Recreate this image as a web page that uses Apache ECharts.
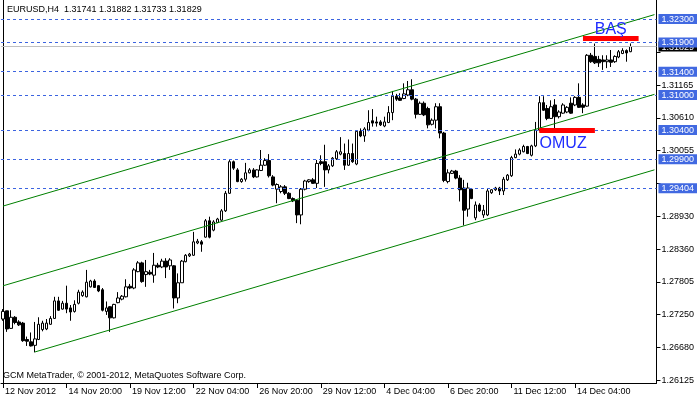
<!DOCTYPE html>
<html><head><meta charset="utf-8">
<script src="https://cdn.jsdelivr.net/npm/echarts@6/dist/echarts.min.js"></script>
<style>html,body{margin:0;padding:0;background:#fff}#c{width:700px;height:402px}</style>
</head><body><div id="c"></div>
<script>
const opens = [1.2717,1.2731,1.2701,1.2720,1.2712,1.2710,1.2682,1.2678,1.2672,1.2682,
1.2699,1.2700,1.2708,1.2718,1.2748,1.2734,1.2744,1.2736,1.2730,1.2744,
1.2757,1.2755,1.2772,1.2782,1.2774,1.2767,1.2730,1.2738,1.2719,1.2745,
1.2751,1.2755,1.2773,1.2770,1.2798,1.2813,1.2793,1.2797,1.2792,1.2809,
1.2806,1.2816,1.2808,1.2808,1.2753,1.2779,1.2815,1.2825,1.2826,1.2847,
1.2849,1.2857,1.2885,1.2869,1.2882,1.2886,1.2902,1.2932,1.2986,1.2972,
1.2952,1.2956,1.2967,1.2972,1.2960,1.2971,1.2980,1.2988,1.2960,1.2939,
1.2935,1.2943,1.2932,1.2923,1.2920,1.2895,1.2939,1.2952,1.2955,1.2949,
1.2986,1.2986,1.2972,1.2979,1.2991,1.2999,1.3000,1.2980,1.3000,1.2982,
1.3038,1.3030,1.3040,1.3056,1.3054,1.3054,1.3047,1.3053,1.3070,1.3098,
1.3095,1.3094,1.3100,1.3109,1.3093,1.3067,1.3086,1.3077,1.3050,1.3057,
1.3080,1.3035,1.2952,1.2966,1.2970,1.2958,1.2941,1.2905,1.2939,1.2890,
1.2912,1.2895,1.2895,1.2933,1.2938,1.2941,1.2936,1.2955,1.2962,1.2993,
1.2999,1.3003,1.3012,1.2997,1.3013,1.3040,1.3087,1.3077,1.3060,1.3083,
1.3063,1.3069,1.3071,1.3086,1.3083,1.3096,1.3083,1.3081,1.3168,1.3166,
1.3161,1.3160,1.3157,1.3160,1.3157,1.3165,1.3171,1.3176,1.31741];
const highs = [1.2734,1.2731,1.2732,1.2722,1.2715,1.2712,1.2687,1.2694,1.2712,1.2720,
1.2714,1.2717,1.2722,1.2755,1.2755,1.2748,1.2774,1.2741,1.2749,1.2767,
1.2766,1.2801,1.2784,1.2785,1.2775,1.2770,1.2747,1.2739,1.2743,1.2763,
1.2758,1.2785,1.2777,1.2804,1.2816,1.2815,1.2818,1.2801,1.2830,1.2813,
1.2820,1.2821,1.2821,1.2809,1.2795,1.2818,1.2828,1.2830,1.2866,1.2854,
1.2852,1.2888,1.2892,1.2886,1.2890,1.2905,1.2936,1.2989,1.2988,1.2975,
1.2958,1.2984,1.2975,1.2975,1.2973,1.3006,1.2992,1.2999,1.2963,1.2949,
1.2946,1.2946,1.2934,1.2925,1.2922,1.2941,1.2955,1.2956,1.2958,1.2989,
1.2997,1.3015,1.2982,1.2994,1.3006,1.3028,1.3017,1.3024,1.3017,1.3040,
1.3043,1.3045,1.3074,1.3076,1.3063,1.3057,1.3063,1.3081,1.3107,1.3102,
1.3103,1.3120,1.3124,1.3127,1.3095,1.3089,1.3089,1.3080,1.3060,1.3086,
1.3086,1.3037,1.2973,1.2972,1.2972,1.2963,1.2955,1.2950,1.2941,1.2918,
1.2915,1.2912,1.2941,1.2939,1.2943,1.2943,1.2960,1.2965,1.2996,1.3007,
1.3009,1.3015,1.3013,1.3015,1.3054,1.3098,1.3098,1.3083,1.3091,1.3093,
1.3074,1.3086,1.3081,1.3096,1.3098,1.3120,1.3086,1.3170,1.3172,1.3188,
1.3167,1.3168,1.3168,1.3177,1.3168,1.3177,1.3180,1.3178,1.31882];
const lows = [1.2714,1.2695,1.2700,1.2708,1.2705,1.2678,1.2671,1.2670,1.2660,1.2681,
1.2696,1.2698,1.2707,1.2717,1.2731,1.2733,1.2727,1.2714,1.2728,1.2742,
1.2755,1.2754,1.2771,1.2770,1.2763,1.2730,1.2724,1.2695,1.2718,1.2744,
1.2749,1.2754,1.2768,1.2768,1.2797,1.2779,1.2772,1.2792,1.2779,1.2804,
1.2804,1.2787,1.2801,1.2735,1.2744,1.2779,1.2814,1.2823,1.2825,1.2845,
1.2832,1.2856,1.2855,1.2867,1.2881,1.2885,1.2900,1.2931,1.2972,1.2951,
1.2950,1.2952,1.2966,1.2958,1.2959,1.2970,1.2979,1.2959,1.2944,1.2915,
1.2932,1.2929,1.2922,1.2917,1.2881,1.2879,1.2937,1.2950,1.2948,1.2941,
1.2980,1.2943,1.2966,1.2977,1.2989,1.2997,1.2972,1.2979,1.2984,1.2980,
1.3028,1.3020,1.3038,1.3046,1.3046,1.3047,1.3045,1.3052,1.3057,1.3090,
1.3090,1.3093,1.3098,1.3091,1.3060,1.3066,1.3064,1.3043,1.3048,1.3043,
1.3026,1.2951,1.2949,1.2965,1.2956,1.2918,1.2877,1.2892,1.2922,1.2886,
1.2900,1.2890,1.2893,1.2931,1.2936,1.2929,1.2929,1.2953,1.2960,1.2992,
1.2997,1.3002,1.2999,1.2995,1.3011,1.3038,1.3073,1.3057,1.3059,1.3043,
1.3060,1.3068,1.3069,1.3068,1.3081,1.3078,1.3069,1.3080,1.3155,1.3153,
1.3148,1.3143,1.3146,1.3148,1.3155,1.3163,1.3170,1.3157,1.31733];
const closes = [1.2730,1.2700,1.2720,1.2711,1.2707,1.2680,1.2679,1.2671,1.2683,1.2708,
1.2710,1.2710,1.2718,1.2748,1.2732,1.2744,1.2734,1.2729,1.2742,1.2763,
1.2763,1.2780,1.2782,1.2771,1.2765,1.2732,1.2736,1.2719,1.2742,1.2753,
1.2756,1.2772,1.2770,1.2801,1.2813,1.2781,1.2798,1.2794,1.2809,1.2806,
1.2816,1.2806,1.2818,1.2753,1.2779,1.2816,1.2826,1.2828,1.2849,1.2850,
1.2845,1.2885,1.2857,1.2883,1.2888,1.2902,1.2932,1.2986,1.2975,1.2952,
1.2956,1.2967,1.2972,1.2960,1.2972,1.2980,1.2988,1.2962,1.2946,1.2947,
1.2943,1.2932,1.2923,1.2919,1.2895,1.2939,1.2953,1.2955,1.2949,1.2983,
1.2983,1.2972,1.2979,1.2992,1.3003,1.3003,1.2980,1.3000,1.2986,1.3038,
1.3030,1.3042,1.3053,1.3052,1.3052,1.3049,1.3054,1.3070,1.3098,1.3093,
1.3091,1.3102,1.3109,1.3093,1.3067,1.3086,1.3066,1.3049,1.3057,1.3080,
1.3035,1.2954,1.2967,1.2970,1.2958,1.2938,1.2903,1.2941,1.2923,1.2912,
1.2902,1.2903,1.2936,1.2938,1.2941,1.2936,1.2956,1.2963,1.2993,1.2999,
1.3006,1.3012,1.3000,1.3013,1.3040,1.3087,1.3074,1.3060,1.3080,1.3063,
1.3071,1.3083,1.3079,1.3069,1.3096,1.3079,1.3079,1.3168,1.3157,1.3155,
1.3155,1.3157,1.3160,1.3156,1.3166,1.3174,1.3176,1.3172,1.31829];

const barSlots = 165;
const xTickLabels = ['12 Nov 2012','14 Nov 20:00','19 Nov 12:00','22 Nov 04:00','26 Nov 20:00',
  '29 Nov 12:00','4 Dec 04:00','6 Dec 20:00','11 Dec 12:00','14 Dec 04:00'];
const xTickStep = 16;
const yTickValues = [1.26125,1.26680,1.27250,1.27805,1.28360,1.28930,1.29485,1.30055,1.30610,1.31165,1.31740];
const yLabelValues = [1.26125,1.26680,1.27250,1.27805,1.28360,1.28930,1.30055,1.30610,1.31165];
const levelValues = [1.32300,1.31900,1.31400,1.31000,1.30400,1.29900,1.29404];
const bidPrice = 1.31829;
const channelTop = [[0,1.29101],[164,1.32375]];
const channelMid = [[0,1.27738],[164,1.31012]];
const channelLow = [[8,1.26606],[164,1.29721]];
const headBar = [[146,1.31967],[160,1.31967]];
const shoulderBar = [[135,1.30405],[149,1.30405]];
const notes = [{text:'BAŞ', at:[153,1.32112]},{text:'OMUZ', at:[141,1.30175]}];
const yMin = 1.26076, yMax = 1.32625;

const categories = Array.from({length: barSlots}, (_, i) => 'bar' + i);
const ohlc = opens.map((o, i) => [o, closes[i], lows[i], highs[i]]);
const FONT = 'Liberation Sans';
const last = ohlc.length - 1;
const header = 'EURUSD,H4  ' + [opens[last], highs[last], lows[last], closes[last]].map(v => v.toFixed(5)).join(' ');

const showTick = (i) => i % xTickStep === 0 && i / xTickStep < xTickLabels.length;
const near = (a, b) => Math.abs(a - b) < 1e-7;

const lineItems = [];
levelValues.forEach(v => lineItems.push({yAxis: v, lineStyle: {color: '#3c64e0', type: [3, 3], width: 1}}));
lineItems.push({yAxis: bidPrice, lineStyle: {color: '#c0c0c0', type: 'solid', width: 1}});
[channelTop, channelMid, channelLow].forEach(s => {
  const st = {color: '#008000', width: 1, type: 'solid'};
  lineItems.push([{coord: s[0], lineStyle: st}, {coord: s[1], lineStyle: st}]);
});
[headBar, shoulderBar].forEach(s => {
  const st = {color: '#ff0000', width: 5, type: 'solid', cap: 'butt'};
  lineItems.push([{coord: s[0], lineStyle: st}, {coord: s[1], lineStyle: st}]);
});

const chart = echarts.init(document.getElementById('c'), null, {renderer: 'canvas'});
chart.setOption({
  animation: false,
  backgroundColor: '#ffffff',
  grid: {left: 1, right: 39, top: 0, bottom: 19},
  xAxis: {
    type: 'category', data: categories, boundaryGap: true,
    axisLine: {show: true, lineStyle: {color: '#000', width: 1}},
    axisTick: {show: true, alignWithLabel: true, interval: showTick, length: 5, lineStyle: {color: '#000'}},
    axisLabel: {interval: showTick, formatter: (v, i) => xTickLabels[Math.round(i / xTickStep)] || '',
      align: 'left', margin: 4, padding: [0, 0, 0, 2], fontFamily: FONT, fontSize: 9, color: '#000'},
    splitLine: {show: false}
  },
  yAxis: [{
    type: 'value', position: 'right', min: yMin, max: yMax, scale: true,
    axisLine: {show: true, lineStyle: {color: '#000', width: 1}},
    axisTick: {show: true, customValues: yTickValues, length: 4, lineStyle: {color: '#000'}},
    axisLabel: {
      customValues: [bidPrice].concat(yLabelValues).concat(levelValues),
      margin: 2, fontFamily: FONT, fontSize: 9, color: '#000',
      formatter: (v) => {
        const s = v.toFixed(5);
        if (levelValues.some(l => near(l, v))) return '{b|' + s + '}';
        if (near(v, bidPrice)) return '{k|' + s + '}';
        return '{n|' + s + '}';
      },
      rich: {
        n: {fontFamily: FONT, fontSize: 9, color: '#000', padding: [0, 0, 0, 3]},
        b: {fontFamily: FONT, fontSize: 9, color: '#fff', backgroundColor: '#4169e1', padding: [1, 3, 0, 3]},
        k: {fontFamily: FONT, fontSize: 9, color: '#fff', backgroundColor: '#000', padding: [1, 3, 0, 3]}
      }
    },
    splitLine: {show: false}
  }, {
    type: 'value', position: 'left', min: yMin, max: yMax, offset: -2,
    axisLine: {show: true, lineStyle: {color: '#000', width: 1}},
    axisTick: {show: false}, axisLabel: {show: false}, splitLine: {show: false}
  }],
  graphic: [
    {type: 'text', left: 7, top: 5, z: 100, style: {text: header, font: '9px "Liberation Sans"', fill: '#000'}},
    {type: 'text', left: 3, top: 371, z: 100, style: {text: 'GCM MetaTrader, © 2001-2012, MetaQuotes Software Corp.', font: '9px "Liberation Sans"', fill: '#000'}}
  ],
  series: [{
    type: 'candlestick', data: ohlc, barWidth: 3, yAxisIndex: 0,
    itemStyle: {color: '#ffffff', color0: '#000000', borderColor: '#000000', borderColor0: '#000000', borderWidth: 1},
    silent: true,
    markLine: {silent: true, precision: 5, symbol: ['none', 'none'], label: {show: false}, animation: false, data: lineItems},
    markPoint: {
      silent: true, symbol: 'circle', symbolSize: 1, itemStyle: {color: 'rgba(0,0,0,0)'}, animation: false,
      label: {show: true, position: 'inside', fontFamily: FONT, fontSize: 16, color: '#1f2cff', formatter: p => p.name},
      data: notes.map(n => ({name: n.text, coord: n.at}))
    }
  }]
});
</script></body></html>
